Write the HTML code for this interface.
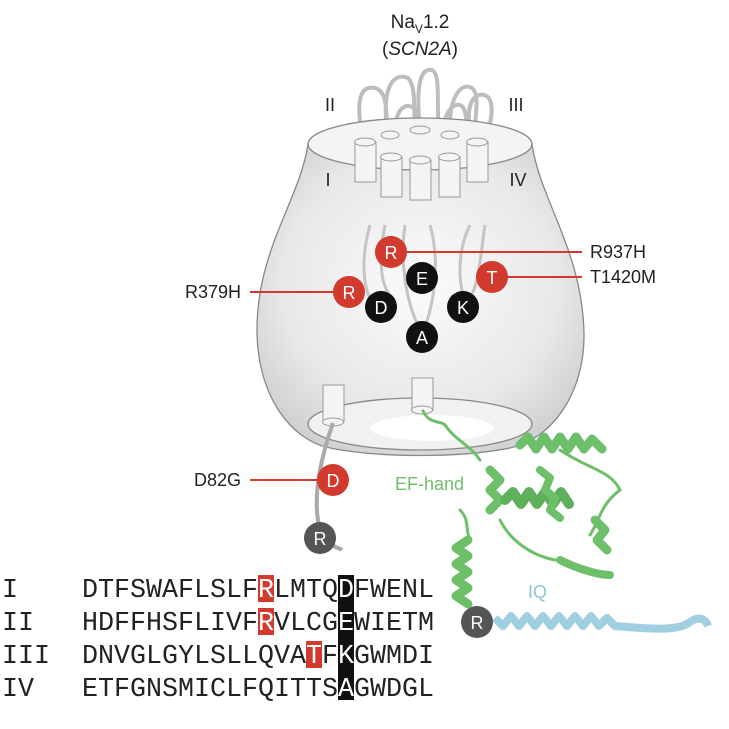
<!DOCTYPE html>
<html><head><meta charset="utf-8"><style>
html,body{margin:0;padding:0;background:#fff;}
svg{display:block;font-family:"Liberation Sans",sans-serif;}
</style></head><body>
<svg width="729" height="729" viewBox="0 0 729 729">
<defs>
<radialGradient id="bodyg" cx="0.5" cy="0.45" r="0.6">
<stop offset="0" stop-color="#fbfbfb"/><stop offset="0.7" stop-color="#e8e8e8"/><stop offset="1" stop-color="#d0d0d0"/>
</radialGradient>
</defs>
<g>
<text x="420" y="28" font-size="19" text-anchor="middle" fill="#222">Na<tspan font-size="12" dy="5">V</tspan><tspan dy="-5">1.2</tspan></text>
<text x="420" y="55" font-size="19" text-anchor="middle" fill="#222">(<tspan font-style="italic">SCN2A</tspan>)</text>
</g>
<g fill="none" stroke="#bdbdbd" stroke-width="4">
<path d="M363,142 C355,100 360,85 375,88 C390,92 385,120 388,135"/>
<path d="M388,135 C380,85 395,72 408,78 C418,88 412,120 416,140"/>
<path d="M395,160 C390,115 402,100 414,108 C422,118 416,150 420,160"/>
<path d="M420,130 C415,80 422,68 432,70 C442,75 435,110 440,138"/>
<path d="M440,160 C440,115 452,100 462,106 C470,115 465,140 465,160"/>
<path d="M450,135 C448,95 462,82 472,88 C482,96 472,125 475,145"/>
<path d="M470,130 C465,98 478,90 488,97 C497,108 487,135 483,145"/>
</g>
<path d="M308,144 C300,200 256,250 257,333 C258,395 290,440 330,448 C380,458 460,458 510,448 C550,440 585,395 584,333 C582,250 540,200 532,144 Z" fill="url(#bodyg)" stroke="#888" stroke-width="1.3"/>
<ellipse cx="420" cy="144" rx="112" ry="26" fill="#f4f4f4" stroke="#888" stroke-width="1.3"/>
<g fill="#f4f4f4" stroke="#999" stroke-width="1">
<rect x="355" y="142" width="21" height="40"/><ellipse cx="365" cy="142" rx="10.5" ry="4"/>
<rect x="381" y="157" width="21" height="40"/><ellipse cx="391" cy="157" rx="10.5" ry="4"/>
<rect x="410" y="160" width="21" height="40"/><ellipse cx="420" cy="160" rx="10.5" ry="4"/>
<rect x="439" y="157" width="21" height="40"/><ellipse cx="449" cy="157" rx="10.5" ry="4"/>
<rect x="467" y="142" width="21" height="40"/><ellipse cx="477" cy="142" rx="10.5" ry="4"/>
<ellipse cx="390" cy="135" rx="9" ry="4"/><ellipse cx="420" cy="130" rx="10" ry="4"/><ellipse cx="450" cy="135" rx="9" ry="4"/>
</g>
<g font-size="18" fill="#222" text-anchor="middle">
<text x="330" y="111">II</text><text x="516" y="111">III</text>
<text x="328" y="186">I</text><text x="518" y="186">IV</text>
</g>
<g fill="none" stroke="#c4c4c4" stroke-width="3">
<path d="M370,225 C360,260 362,300 380,310"/><path d="M385,225 C378,260 380,290 395,300"/>
<path d="M405,225 C400,260 405,300 420,330"/><path d="M430,225 C440,260 435,300 424,330"/>
<path d="M470,225 C455,255 460,290 465,300"/><path d="M485,225 C480,260 478,290 468,300"/>
</g>
<ellipse cx="420" cy="424" rx="112" ry="26" fill="#f1f1f1" stroke="#888" stroke-width="1.3"/>
<ellipse cx="432" cy="428" rx="62" ry="13" fill="#fff"/>
<g fill="#f4f4f4" stroke="#999" stroke-width="1">
<rect x="323" y="385" width="21" height="37"/><ellipse cx="333" cy="422" rx="10.5" ry="4"/>
<rect x="412" y="378" width="21" height="32"/><ellipse cx="422" cy="410" rx="10.5" ry="4"/>
</g>
<path d="M333,423 C320,460 312,500 320,530 C324,545 340,548 342,550" fill="none" stroke="#aaa" stroke-width="4"/>
<g stroke="#d23a2e" stroke-width="2">
<line x1="391" y1="252" x2="582" y2="252"/><line x1="492" y1="277" x2="582" y2="277"/>
<line x1="250" y1="292" x2="349" y2="292"/><line x1="250" y1="480" x2="333" y2="480"/>
</g>
<g font-size="18" fill="#222">
<text x="590" y="258">R937H</text><text x="590" y="283">T1420M</text>
<text x="241" y="298" text-anchor="end">R379H</text><text x="241" y="486" text-anchor="end">D82G</text>
</g>
<g font-size="18" text-anchor="middle" fill="#fff">
<circle cx="391" cy="252" r="16" fill="#d23a2e"/><text x="391" y="259">R</text>
<circle cx="422" cy="278" r="16" fill="#111"/><text x="422" y="285">E</text>
<circle cx="492" cy="277" r="16" fill="#d23a2e"/><text x="492" y="284">T</text>
<circle cx="349" cy="292" r="16" fill="#d23a2e"/><text x="349" y="299">R</text>
<circle cx="381" cy="307" r="16" fill="#111"/><text x="381" y="314">D</text>
<circle cx="463" cy="307" r="16" fill="#111"/><text x="463" y="314">K</text>
<circle cx="422" cy="337" r="16" fill="#111"/><text x="422" y="344">A</text>
<circle cx="333" cy="480" r="16" fill="#d23a2e"/><text x="333" y="487">D</text>
<circle cx="320" cy="538" r="16" fill="#555"/><text x="320" y="545">R</text>
</g>
<g fill="none" stroke="#6dbf6a" stroke-linecap="round">
<path d="M423,411 C430,425 440,420 445,425 C455,440 470,445 480,460" stroke-width="3"/>
<path d="M520,445 l8,-8 l8,12 l8,-12 l8,12 l8,-12 l8,12 l8,-12 l8,12 l8,-10 l10,10" stroke-width="9" stroke-linejoin="round"/>
<path d="M490,470 l10,10 l-10,10 l10,10 l-10,10" stroke-width="9" stroke-linejoin="round"/>
<path d="M505,500 l8,-8 l8,12 l8,-12 l8,12 l8,-12 l8,12 l8,-12 l8,12" stroke-width="10" stroke-linejoin="round" stroke="#5fb05c"/>
<path d="M540,470 l10,8 l-5,12 l10,8 l-5,12 l10,8" stroke-width="8" stroke-linejoin="round"/>
<path d="M560,450 C590,470 610,470 620,490 C600,505 600,520 590,535" stroke-width="3"/>
<path d="M595,520 l10,10 l-8,10 l10,10" stroke-width="9" stroke-linejoin="round"/>
<path d="M560,560 C580,570 600,575 610,575" stroke-width="8"/>
<path d="M460,510 C470,520 465,530 470,540" stroke-width="3"/>
<path d="M468,540 l-12,8 l12,8 l-12,8 l12,8 l-12,8 l12,8 l-12,8 l12,8" stroke-width="9" stroke-linejoin="round"/>
<path d="M500,520 C510,540 530,555 555,560" stroke-width="3"/>
</g>
<text x="395" y="490" font-size="18" fill="#6dbf6a">EF-hand</text>
<path d="M495,618 l8,8 l8,-10 l8,10 l8,-10 l8,10 l8,-10 l8,10 l8,-10 l8,10 l8,-10 l8,10 l8,-10 l8,10 l8,-8 l8,8 C660,630 680,630 690,622 C700,615 706,620 708,626" fill="none" stroke="#9fcfe0" stroke-width="8" stroke-linejoin="round"/>
<text x="528" y="598" font-size="18" fill="#8fc3d8">IQ</text>
<circle cx="477" cy="622" r="16" fill="#555"/>
<text x="477" y="629" font-size="18" fill="#fff" text-anchor="middle">R</text>
<g font-family="Liberation Mono, monospace" font-size="26.67" fill="#222">
<rect x="258" y="575" width="16" height="27" fill="#d23a2e"/>
<rect x="258" y="608" width="16" height="27" fill="#d23a2e"/>
<rect x="306" y="641" width="16" height="27" fill="#d23a2e"/>
<rect x="338" y="575" width="16" height="125" fill="#111"/>
<text x="2" y="597">I</text><text x="2" y="630">II</text><text x="2" y="663">III</text><text x="2" y="696">IV</text>
<text x="82" y="597">DTFSWAFLSLF<tspan fill="#fff">R</tspan>LMTQ<tspan fill="#fff">D</tspan>FWENL</text>
<text x="82" y="630">HDFFHSFLIVF<tspan fill="#fff">R</tspan>VLCG<tspan fill="#fff">E</tspan>WIETM</text>
<text x="82" y="663">DNVGLGYLSLLQVA<tspan fill="#fff">T</tspan>F<tspan fill="#fff">K</tspan>GWMDI</text>
<text x="82" y="696">ETFGNSMICLFQITTS<tspan fill="#fff">A</tspan>GWDGL</text>
</g>
</svg>
</body></html>
